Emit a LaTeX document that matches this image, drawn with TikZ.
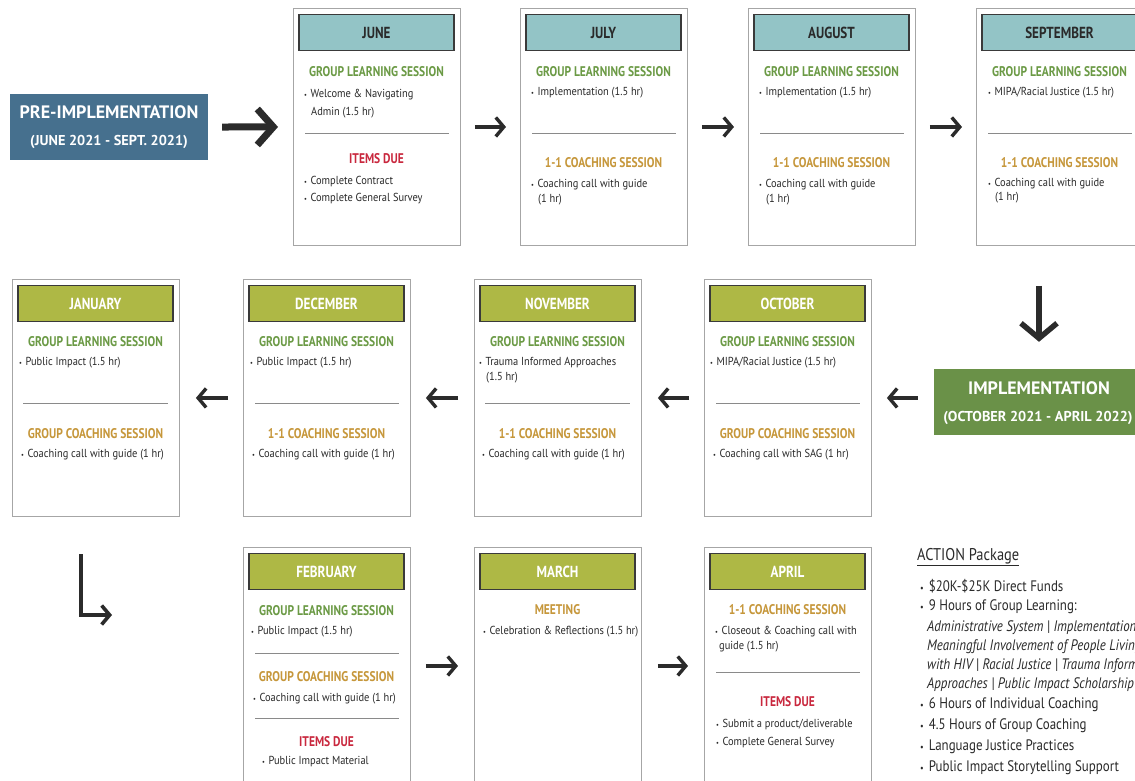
\documentclass[tikz,border=0pt]{standalone}
\usepackage{fontspec}
\setmainfont{PT Sans}
\newfontfamily\condf[FakeStretch=0.82]{PT Sans}
\newfontfamily\bodyf[FakeStretch=0.9]{PT Sans}
\newfontfamily\actf[FakeStretch=0.85]{PT Sans}
\usetikzlibrary{arrows.meta}
\definecolor{tealc}{HTML}{93C4C6}
\definecolor{olivec}{HTML}{AEB845}
\definecolor{hdborder}{HTML}{3A3A3A}
\definecolor{cardgray}{HTML}{A6A6A6}
\definecolor{preblue}{HTML}{46708E}
\definecolor{implgreen}{HTML}{6A9148}
\definecolor{greent}{HTML}{6B9A45}
\definecolor{goldt}{HTML}{C6973B}
\definecolor{redt}{HTML}{C9283E}
\definecolor{sepgray}{HTML}{8A8A8A}
\definecolor{arrowc}{HTML}{2B2B2B}
\definecolor{textc}{HTML}{2A2A2A}
\newcommand\bul{{\fontsize{7}{7}\selectfont\textbullet}\hspace{3.5pt}}
\newcommand\abul{{\fontsize{9.5}{9.5}\selectfont\textbullet}\hspace{5pt}}
\newcommand\mcard[3]{%
  \node[card] (#1) at (0,0) {};
  \node[#3] (#1h) at (83.5,24.5) {#2};}
\tikzset{
  x=1pt,y=-1pt,
  card/.style={draw=cardgray,line width=0.9pt,fill=white,minimum width=167pt,minimum height=237pt,anchor=north west,inner sep=0pt},
  mhead/.style={draw=hdborder,line width=1.8pt,minimum width=155pt,minimum height=36pt,inner sep=0pt,font=\condf\bfseries\fontsize{16}{16}\selectfont},
  tealh/.style={mhead,fill=tealc,text=textc},
  oliveh/.style={mhead,fill=olivec,text=white},
  shead/.style={inner sep=0pt,yshift=-0.8pt,font=\condf\bfseries\fontsize{14}{14}\selectfont},
  sgreen/.style={shead,text=greent},
  sgold/.style={shead,text=goldt},
  sred/.style={shead,text=redt},
  item/.style={anchor=west,inner sep=0pt,yshift=-1.5pt,font=\bodyf\fontsize{11.6}{13}\selectfont,text=textc},
  sepline/.style={draw=sepgray,line width=0.8pt},
  arrS/.style={draw=arrowc,line width=3.4pt,-{Straight Barb[length=8pt,width=19pt]}},
  arrBig/.style={draw=arrowc,line width=7pt,-{Straight Barb[length=16pt,width=36pt]}},
  arrDown/.style={draw=arrowc,line width=5.5pt,-{Straight Barb[length=15pt,width=36pt]}},
  phasebox/.style={minimum width=198pt,minimum height=66pt,inner sep=0pt},
  phtitle/.style={inner sep=0pt,text=white,font=\bfseries\fontsize{18}{19}\selectfont},
  phsub/.style={inner sep=0pt,text=white,font=\bfseries\fontsize{14.3}{15}\selectfont},
  acthead/.style={anchor=west,inner sep=0pt,text=textc,font=\actf\fontsize{17}{18}\selectfont},
  actitem/.style={anchor=west,inner sep=0pt,text=textc,font=\actf\fontsize{15.2}{16}\selectfont},
  actital/.style={actitem,font=\actf\itshape\fontsize{15.2}{16}\selectfont},
}
\begin{document}
\begin{tikzpicture}
\useasboundingbox (0,0) rectangle (1135,780);
\clip (0,0) rectangle (1135,780);
\fill[white] (0,0) rectangle (1135,780);

% ---------- phase boxes
\node[phasebox,fill=preblue] (pre) at (109,127) {};
\node[phtitle] (pret) at (109,112) {PRE-IMPLEMENTATION};
\node[phsub] (pres) at (109,142) {(JUNE 2021 - SEPT. 2021)};

\node[phasebox,fill=implgreen,minimum width=216pt] (impl) at (1042,402) {};
\node[phtitle] (implt) at (1039,388) {IMPLEMENTATION};
\node[phsub] (impls) at (1038,418) {(OCTOBER 2021 - APRIL 2022)};

% ---------- top row
\begin{scope}[shift={(293,8)}]
\mcard{jun}{JUNE}{tealh}
\node[sgreen] (junG) at (83.5,63) {GROUP LEARNING SESSION};
\node[item] (jun1) at (11,85) {\bul Welcome \& Navigating};
\node[item] (jun2) at (18,103) {Admin (1.5 hr)};
\draw[sepline] (12,125) -- (156,125);
\node[sred] (junI) at (83.5,150) {ITEMS DUE};
\node[item] (jun3) at (11,172) {\bul Complete Contract};
\node[item] (jun4) at (11,189) {\bul Complete General Survey};
\end{scope}

\begin{scope}[shift={(520,8)}]
\mcard{jul}{JULY}{tealh}
\node[sgreen] (julG) at (83.5,63) {GROUP LEARNING SESSION};
\node[item] (jul1) at (11,83) {\bul Implementation (1.5 hr)};
\draw[sepline] (12,125) -- (156,125);
\node[sgold] (julC) at (83.5,154) {1-1 COACHING SESSION};
\node[item] (jul2) at (11,175) {\bul Coaching call with guide};
\node[item] (jul3) at (18,190) {(1 hr)};
\end{scope}

\begin{scope}[shift={(748,8)}]
\mcard{aug}{AUGUST}{tealh}
\node[sgreen] (augG) at (83.5,63) {GROUP LEARNING SESSION};
\node[item] (aug1) at (11,83) {\bul Implementation (1.5 hr)};
\draw[sepline] (12,125) -- (156,125);
\node[sgold] (augC) at (83.5,154) {1-1 COACHING SESSION};
\node[item] (aug2) at (11,175) {\bul Coaching call with guide};
\node[item] (aug3) at (18,190) {(1 hr)};
\end{scope}

\begin{scope}[shift={(976,8)}]
\mcard{sep}{SEPTEMBER}{tealh}
\node[sgreen] (sepG) at (83.5,63) {GROUP LEARNING SESSION};
\node[item] (sep1) at (12,83) {\bul MIPA/Racial Justice (1.5 hr)};
\draw[sepline] (12,125) -- (156,125);
\node[sgold] (sepC) at (83.5,154) {1-1 COACHING SESSION};
\node[item] (sep2) at (12,174) {\bul Coaching call with guide};
\node[item] (sep3) at (19,188) {(1 hr)};
\end{scope}

% ---------- middle row
\begin{scope}[shift={(12,279)}]
\mcard{jan}{JANUARY}{oliveh}
\node[sgreen] (janG) at (83.5,62) {GROUP LEARNING SESSION};
\node[item] (jan1) at (7,82) {\bul Public Impact (1.5 hr)};
\draw[sepline] (11,124) -- (156,124);
\node[sgold] (janC) at (83.5,154) {GROUP COACHING SESSION};
\node[item] (jan2) at (9,174) {\bul Coaching call with guide (1 hr)};
\end{scope}

\begin{scope}[shift={(243,279)}]
\mcard{dec}{DECEMBER}{oliveh}
\node[sgreen] (decG) at (83.5,62) {GROUP LEARNING SESSION};
\node[item] (dec1) at (7,82) {\bul Public Impact (1.5 hr)};
\draw[sepline] (12,124) -- (156,124);
\node[sgold] (decC) at (83.5,154) {1-1 COACHING SESSION};
\node[item] (dec2) at (9,174) {\bul Coaching call with guide (1 hr)};
\end{scope}

\begin{scope}[shift={(474,279)}]
\mcard{nov}{NOVEMBER}{oliveh}
\node[sgreen] (novG) at (83.5,62) {GROUP LEARNING SESSION};
\node[item] (nov1) at (5,82) {\bul Trauma Informed Approaches};
\node[item] (nov2) at (12,97) {(1.5 hr)};
\draw[sepline] (11,124) -- (156,124);
\node[sgold] (novC) at (83.5,154) {1-1 COACHING SESSION};
\node[item] (nov3) at (8,174) {\bul Coaching call with guide (1 hr)};
\end{scope}

\begin{scope}[shift={(704,279)}]
\mcard{oct}{OCTOBER}{oliveh}
\node[sgreen] (octG) at (83.5,62) {GROUP LEARNING SESSION};
\node[item] (oct1) at (6,82) {\bul MIPA/Racial Justice (1.5 hr)};
\draw[sepline] (12,124) -- (156,124);
\node[sgold] (octC) at (83.5,154) {GROUP COACHING SESSION};
\node[item] (oct2) at (9,174) {\bul Coaching call with SAG (1 hr)};
\end{scope}

% ---------- bottom row
\begin{scope}[shift={(243,547)}]
\mcard{feb}{FEBRUARY}{oliveh}
\node[sgreen] (febG) at (83.5,63) {GROUP LEARNING SESSION};
\node[item] (feb1) at (8,83) {\bul Public Impact (1.5 hr)};
\draw[sepline] (12,106) -- (156,106);
\node[sgold] (febC) at (83.5,129) {GROUP COACHING SESSION};
\node[item] (feb2) at (10,150) {\bul Coaching call with guide (1 hr)};
\draw[sepline] (12,171) -- (156,171);
\node[sred] (febI) at (83.5,194) {ITEMS DUE};
\node[item] (feb3) at (19,213) {\bul Public Impact Material};
\end{scope}

\begin{scope}[shift={(474,547)}]
\mcard{mar}{MARCH}{oliveh}
\node[sgold] (marM) at (83.5,62) {MEETING};
\node[item] (mar1) at (9,83) {\bul Celebration \& Reflections (1.5 hr)};
\end{scope}

\begin{scope}[shift={(704,547)}]
\mcard{apr}{APRIL}{oliveh}
\node[sgold] (aprC) at (83.5,62) {1-1 COACHING SESSION};
\node[item] (apr1) at (11,83) {\bul Closeout \& Coaching call with};
\node[item] (apr2) at (15,98) {guide (1.5 hr)};
\draw[sepline] (12,125) -- (156,125);
\node[sred] (aprI) at (83.5,154) {ITEMS DUE};
\node[item] (apr3) at (12,176) {\bul Submit a product/deliverable};
\node[item] (apr4) at (12,194) {\bul Complete General Survey};
\end{scope}

% ---------- ACTION package
\node[acthead] (acth) at (917,557) {\underline{ACTION Package}};
\node[actitem] (act1) at (920,586) {\abul \$20K-\$25K Direct Funds};
\node[actitem] (act2) at (920,607) {\abul 9 Hours of Group Learning:};
\node[actital] (act3) at (927,628) {Administrative System | Implementation |};
\node[actital] (act4) at (927,647) {Meaningful Involvement of People Living};
\node[actital] (act5) at (927,666) {with HIV | Racial Justice | Trauma Informed};
\node[actital] (act6) at (927,685) {Approaches | Public Impact Scholarship};
\node[actitem] (act7) at (920,705) {\abul 6 Hours of Individual Coaching};
\node[actitem] (act8) at (920,726) {\abul 4.5 Hours of Group Coaching};
\node[actitem] (act9) at (920,747) {\abul Language Justice Practices};
\node[actitem] (act10) at (920,768) {\abul Public Impact Storytelling Support};

% ---------- arrows
\draw[arrBig] ([xshift=14pt]pre.east) -- ([xshift=-15pt]jun.west);
\draw[arrS] ([xshift=14pt]jun.east) -- ([xshift=-14pt]jul.west);
\draw[arrS] ([xshift=14pt]jul.east) -- ([xshift=-14pt]aug.west);
\draw[arrS] ([xshift=14pt]aug.east) -- ([xshift=-14pt]sep.west);
\draw[arrDown] ([yshift=-40pt]sep.south -| implt.north) -- ([yshift=27pt]implt.north |- impl.north);
\draw[arrS] ([xshift=-16pt]oct.east -| impl.west) -- ([xshift=15pt]oct.east);
\draw[arrS] ([xshift=-15pt]oct.west) -- ([xshift=16pt]nov.east);
\draw[arrS] ([xshift=-16pt]nov.west) -- ([xshift=15pt]dec.east);
\draw[arrS] ([xshift=-15pt]dec.west) -- ([xshift=16pt]jan.east);
\coordinate (bs) at (81,554);
\coordinate (be) at (112,615);
\draw[arrS,line width=3.6pt] (bs) |- (be);
\draw[arrS] ([xshift=15pt]feb.east) -- ([xshift=-16pt]mar.west);
\draw[arrS] ([xshift=16pt]mar.east) -- ([xshift=-16pt]apr.west);
\end{tikzpicture}
\end{document}
